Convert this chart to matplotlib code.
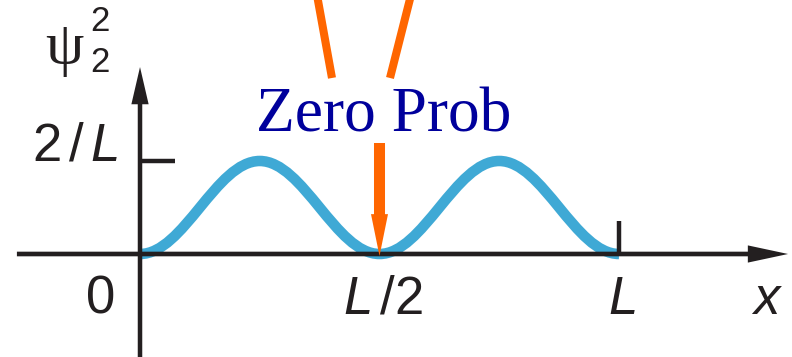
import numpy as np
import matplotlib
matplotlib.use("Agg")
from matplotlib import pyplot as plt
from matplotlib.path import Path
from matplotlib.patches import PathPatch

# Datos (x en unidades de L, y en unidades de 1/L)
nodos_x = [0.0, 0.5, 1.0]      # ceros de psi_2^2
picos_x = [0.25, 0.75]         # maximos
picos_y = [2.0, 2.0]           # altura de los maximos = 2/L
marcas_y = [2.0]               # marca del eje y
etiquetas_y = ["$2\\,/\\,L$"]
marcas_x = [0.0, 0.5, 1.0]
etiquetas_x = ["0", "$L\\,/2$", "$L$"]
nodo_cero = 0.5                # donde apunta la flecha "Zero Prob"

plt.rcParams['mathtext.fontset'] = 'custom'
plt.rcParams['mathtext.rm'] = 'Liberation Sans'
plt.rcParams['mathtext.it'] = 'Liberation Sans:italic'
plt.rcParams['font.family'] = ['Liberation Sans', 'DejaVu Sans']

negro = '#231F20'
azul = '#3FA9D5'
naranja = '#FF6600'

fig = plt.figure(figsize=(7.92, 3.57), dpi=100)
ax = fig.add_axes([0, 0, 1, 1])
ax.set_xlim(-0.2923, 1.3612)
ax.set_ylim(-2.215, 5.462)
ax.axis('off')

# Curva psi_2^2: tramos de Bezier entre nodos y picos (forma de medio coseno)
puntos = []
for i in range(len(picos_x)):
    puntos.append((nodos_x[i], 0.0))
    puntos.append((picos_x[i], picos_y[i]))
puntos.append((nodos_x[-1], 0.0))
verts = [puntos[0]]
codes = [Path.MOVETO]
for (x0, y0), (x1, y1) in zip(puntos[:-1], puntos[1:]):
    c = (x1 - x0) * (1 - 2 / np.pi)
    verts += [(x0 + c, y0), (x1 - c, y1), (x1, y1)]
    codes += [Path.CURVE4] * 3
ax.add_patch(PathPatch(Path(verts, codes), fill=False, edgecolor=azul,
                       lw=7.6, capstyle='butt', zorder=2))

# Ejes con flechas
ax.arrow(-0.257, 0, 1.61, 0, width=0.1, head_width=0.37, head_length=0.084,
         length_includes_head=True, color=negro, lw=0, zorder=3)
ax.arrow(0, -2.3, 0, 6.32, width=0.0094, head_width=0.036, head_length=0.8,
         length_includes_head=True, color=negro, lw=0, zorder=3)

# Marcas
for y in marcas_y:
    ax.plot([0, 0.073], [y, y], color=negro, lw=3.2, solid_capstyle='butt', zorder=3)
ax.plot([marcas_x[-1]] * 2, [0, 0.7], color=negro, lw=3.2, solid_capstyle='butt', zorder=3)

# Etiquetas
fs = 38
ax.text(-0.1357, 2.0, etiquetas_y[0], fontsize=fs, ha='center', va='baseline', color=negro)
ax.text(-0.083, -1.28, etiquetas_x[0], fontsize=fs, ha='center', va='baseline', color=negro)
ax.text(0.508, -1.28, etiquetas_x[1], fontsize=fs, ha='center', va='baseline', color=negro)
ax.text(1.006, -1.28, etiquetas_x[2], fontsize=fs, ha='center', va='baseline', color=negro)
ax.text(1.309, -1.28, "$x$", fontsize=fs, ha='center', va='baseline', color=negro)

ax.text(-0.1587, 4.40, "ψ", fontsize=44, family=['Liberation Serif', 'DejaVu Serif'],
        ha='center', va='center', color=negro)
ax.text(-0.0835, 4.99, "2", fontsize=25, ha='center', va='center', color=negro)
ax.text(-0.0835, 4.11, "2", fontsize=25, ha='center', va='center', color=negro)

# Anotacion "Zero Prob"
ax.plot([0.3695, 0.4008], [5.57, 3.785], color=naranja, lw=5.8, solid_capstyle='butt')
ax.plot([0.5658, 0.5219], [5.57, 3.785], color=naranja, lw=5.8, solid_capstyle='butt')
ax.text(0.508, 2.624, "Zero Prob", fontsize=45.7, family=['Liberation Serif', 'DejaVu Serif'],
        ha='center', va='baseline', color='#00009C')
ax.arrow(nodo_cero, 2.387, 0, -2.43, width=0.023, head_width=0.0355, head_length=0.9,
         length_includes_head=True, color=naranja, lw=0, zorder=4)

fig.savefig('out.png', dpi=100)
